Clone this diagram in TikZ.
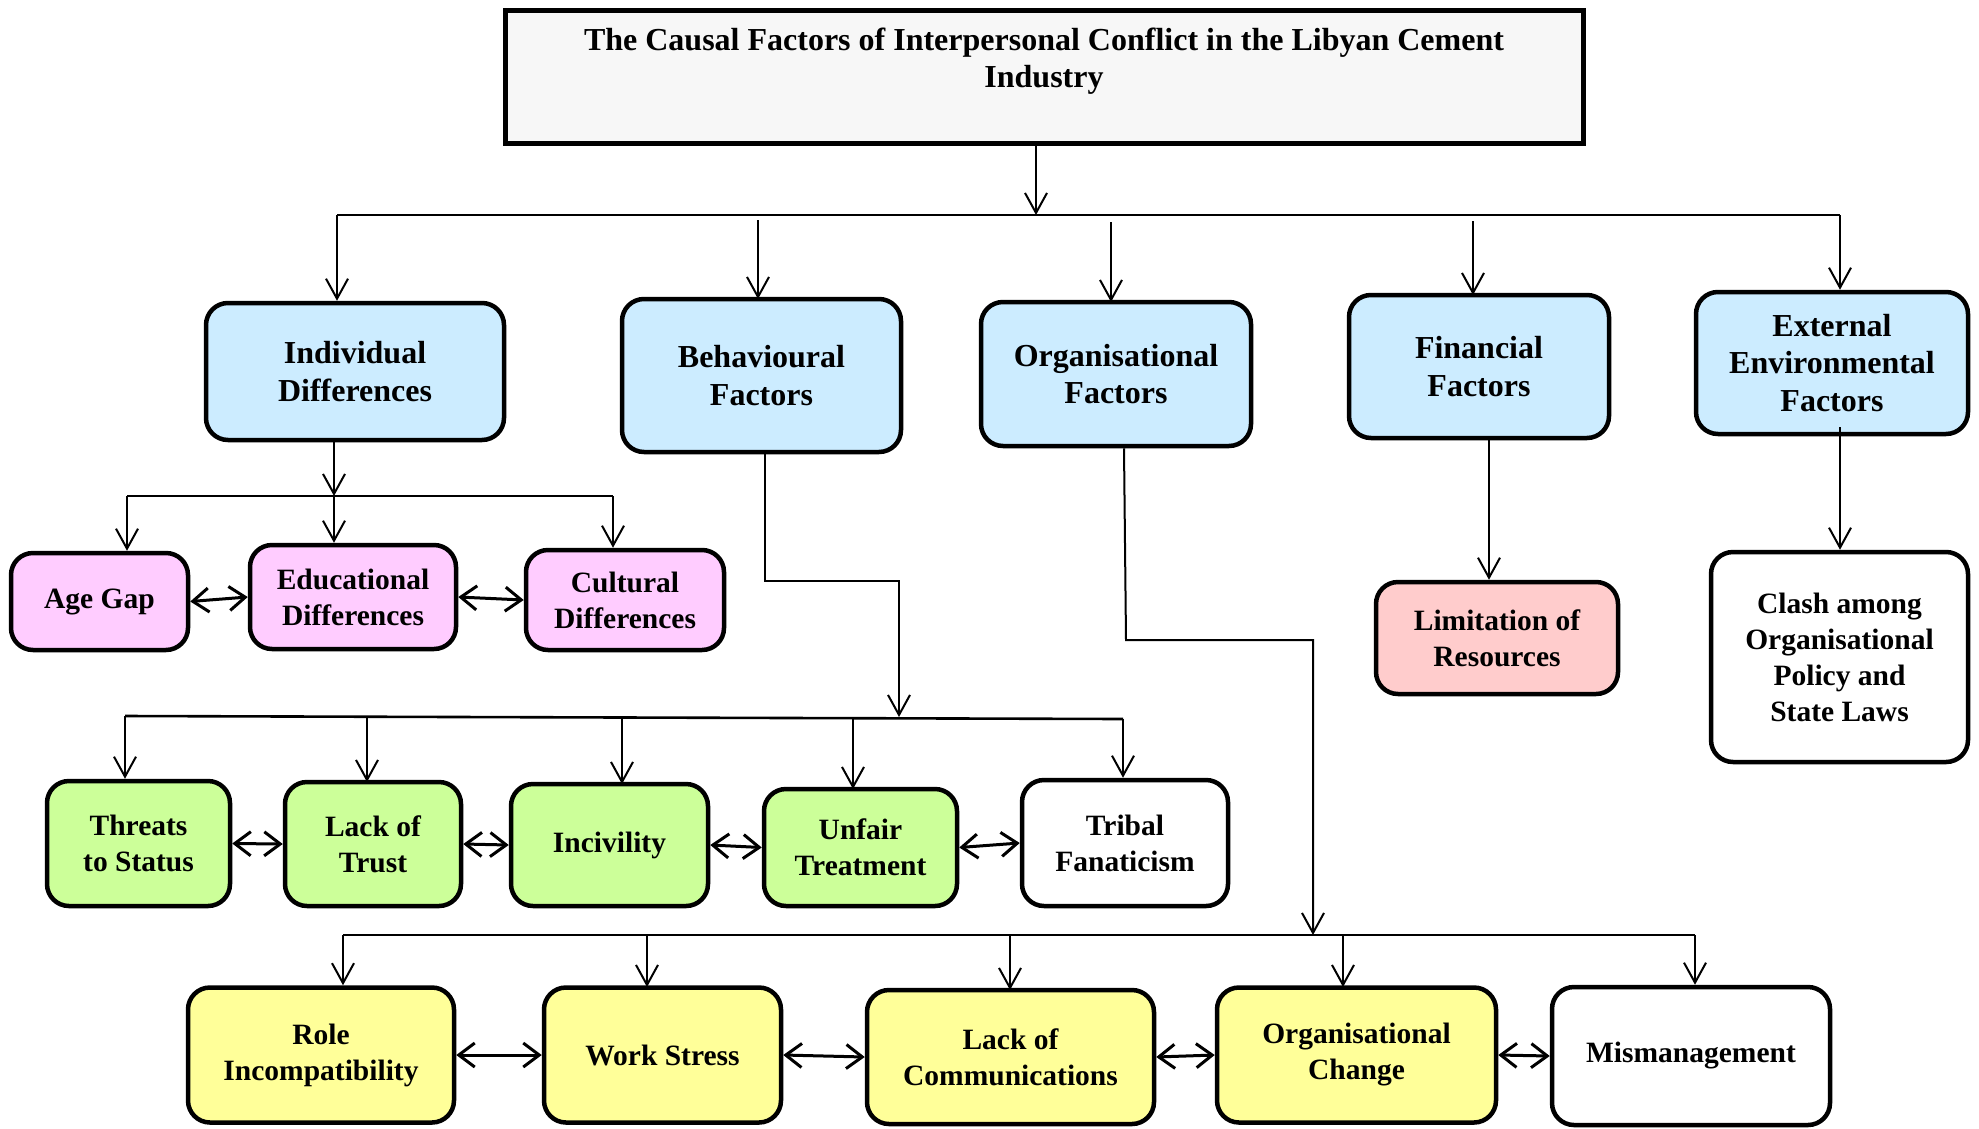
\documentclass[tikz,border=0pt]{standalone}
\usepackage{fontspec}
\setmainfont{Liberation Serif}
\usetikzlibrary{arrows.meta}
\definecolor{titlegrey}{HTML}{F7F7F7}
\definecolor{factorblue}{HTML}{CCECFF}
\definecolor{indpink}{HTML}{FFCCFF}
\definecolor{behgreen}{HTML}{CCFF99}
\definecolor{orgyellow}{HTML}{FFFF99}
\definecolor{finred}{HTML}{FFCCCC}
\begin{document}
\begin{tikzpicture}[x=1pt,y=-1pt,
  lbl/.style={font=\bfseries\fontsize{29.5}{36}\selectfont},
  biglbl/.style={font=\bfseries\fontsize{32}{37.5}\selectfont},
  box/.style={lbl, draw, line width=4.5pt, rounded corners=22pt, align=center, inner sep=0pt},
  arr/.style={line width=2pt, -{Straight Barb[length=20pt,width=22pt]}},
  bus/.style={line width=2.6pt},
  link/.style={line width=3pt, {Straight Barb[length=16pt,width=24pt]}-{Straight Barb[length=16pt,width=24pt]}}]
\useasboundingbox (0,0) rectangle (1979,1128);

% heading
\node[biglbl, draw, line width=5pt, fill=titlegrey, minimum width=1078pt, minimum height=133pt, align=center, inner sep=0pt]
  (title) at (1044,76.5) {The Causal Factors of Interpersonal Conflict in the Libyan Cement\\Industry\\\mbox{}};

% main factor groups
\node[box, biglbl, fill=factorblue, minimum width=298pt, minimum height=137pt] (ind) at (355,371.5) {Individual\\Differences};
\node[box, biglbl, fill=factorblue, minimum width=279pt, minimum height=153pt] (beh) at (761.5,375.5) {Behavioural\\Factors};
\node[box, biglbl, fill=factorblue, minimum width=270pt, minimum height=144pt] (org) at (1116,374) {Organisational\\Factors};
\node[box, biglbl, fill=factorblue, minimum width=260pt, minimum height=143pt] (fin) at (1479,366.5) {Financial\\Factors};
\node[box, biglbl, fill=factorblue, minimum width=272pt, minimum height=142pt] (ext) at (1832,363) {External\\Environmental\\Factors};

% individual differences
\node[box, fill=indpink, minimum width=177pt, minimum height=97pt] (age) at (99.5,601.5) {Age Gap};
\node[box, fill=indpink, minimum width=206pt, minimum height=104pt] (edu) at (353,597) {Educational\\Differences};
\node[box, fill=indpink, minimum width=198pt, minimum height=100pt] (cul) at (625,600) {Cultural\\Differences};

% behavioural factors
\node[box, fill=behgreen, minimum width=183pt, minimum height=125pt] (thr) at (138.5,843.5) {Threats\\to Status};
\node[box, fill=behgreen, minimum width=176pt, minimum height=124pt] (tru) at (373,844) {Lack of\\Trust};
\node[box, fill=behgreen, minimum width=197pt, minimum height=122pt] (inc) at (609.5,845) {Incivility};
\node[box, fill=behgreen, minimum width=193pt, minimum height=117pt] (unf) at (860.5,847.5) {Unfair\\Treatment};
\node[box, fill=white, minimum width=206pt, minimum height=126pt] (tri) at (1125,843) {Tribal\\Fanaticism};

% organisational factors
\node[box, fill=orgyellow, minimum width=266pt, minimum height=135pt] (rol) at (321,1055) {Role\\Incompatibility};
\node[box, fill=orgyellow, minimum width=237pt, minimum height=135pt] (wst) at (662.5,1055) {Work Stress};
\node[box, fill=orgyellow, minimum width=287pt, minimum height=134pt] (com) at (1010.5,1057) {Lack of\\Communications};
\node[box, fill=orgyellow, minimum width=279pt, minimum height=135pt] (chg) at (1356.5,1055) {Organisational\\Change};
\node[box, fill=white, minimum width=278pt, minimum height=138pt] (mis) at (1691,1056) {Mismanagement};

% financial and external factors
\node[box, fill=finred, minimum width=242pt, minimum height=112pt] (res) at (1497,638) {Limitation of\\Resources};
\node[box, fill=white, minimum width=257pt, minimum height=210pt] (cla) at (1839.5,657) {Clash among\\Organisational\\Policy and\\State Laws};

% top distribution bus
\coordinate (tbL) at (337,215);
\coordinate (tbM) at (1036,215);
\coordinate (tbR) at (1840,215);
\draw[bus] (tbL) -- (tbR);
\draw[arr] (title.south -| tbM) -- (tbM);
\draw[arr] (tbL) -- (tbL |- ind.north);
\draw[arr] (758,220) -- (758,299);
\draw[arr] (1111,222) -- (1111,302);
\draw[arr] (1473,221) -- (1473,295);
\draw[arr] (tbR) -- (tbR |- ext.north);

% individual differences branch
\coordinate (ibM) at (334,496);
\coordinate (ibL) at (127,496);
\coordinate (ibR) at (613,496);
\draw[arr] (ind.south -| ibM) -- (ibM);
\draw[bus] (ibL) -- (ibR);
\draw[arr] (ibL) -- (ibL |- age.north);
\draw[arr] (ibM) -- (ibM |- edu.north);
\draw[arr] (ibR) -- (ibR |- cul.north);
\draw[link] (age.east) -- (edu.west);
\draw[link] (edu.east) -- (cul.west);

% behavioural branch
\coordinate (bbL) at (125,716);
\coordinate (bbM) at (899,717);
\coordinate (bbR) at (1123,719);
\coordinate (bdrop) at (765,0);
\draw[arr] (beh.south -| bdrop) -- (765,581) -- (899,581) -- (bbM);
\draw[bus] (bbL) -- (bbR);
\draw[arr] (bbL) -- (bbL |- thr.north);
\draw[arr] (367,717) -- (367,782);
\draw[arr] (622,718) -- (622,784);
\draw[arr] (853,718) -- (853,789);
\draw[arr] (bbR) -- (bbR |- tri.north);
\draw[link] (thr.east) -- (tru.west);
\draw[link] (tru.east) -- (inc.west);
\draw[link] (inc.east) -- (unf.west);
\draw[link] (unf.east) -- (tri.west);

% organisational branch
\coordinate (obL) at (343,935);
\coordinate (obM) at (1313,935);
\coordinate (obR) at (1695,935);
\coordinate (odrop) at (1124,0);
\draw[arr] (org.south -| odrop) -- (1126,640) -- (1313,640) -- (obM);
\draw[bus] (obL) -- (obR);
\draw[arr] (obL) -- (obL |- rol.north);
\draw[arr] (647,935) -- (647,987);
\draw[arr] (1010,935) -- (1010,990);
\draw[arr] (1343,935) -- (1343,987);
\draw[arr] (obR) -- (obR |- mis.north);
\draw[link] (rol.east) -- (wst.west);
\draw[link] (wst.east) -- (com.west);
\draw[link] (com.east) -- (chg.west);
\draw[link] (chg.east) -- (mis.west);

% financial and external branches
\coordinate (fdrop) at (1489,0);
\coordinate (edrop) at (1840,427);
\draw[arr] (fin.south -| fdrop) -- (fdrop |- res.north);
\draw[arr] (edrop) -- (edrop |- cla.north);
\end{tikzpicture}
\end{document}
